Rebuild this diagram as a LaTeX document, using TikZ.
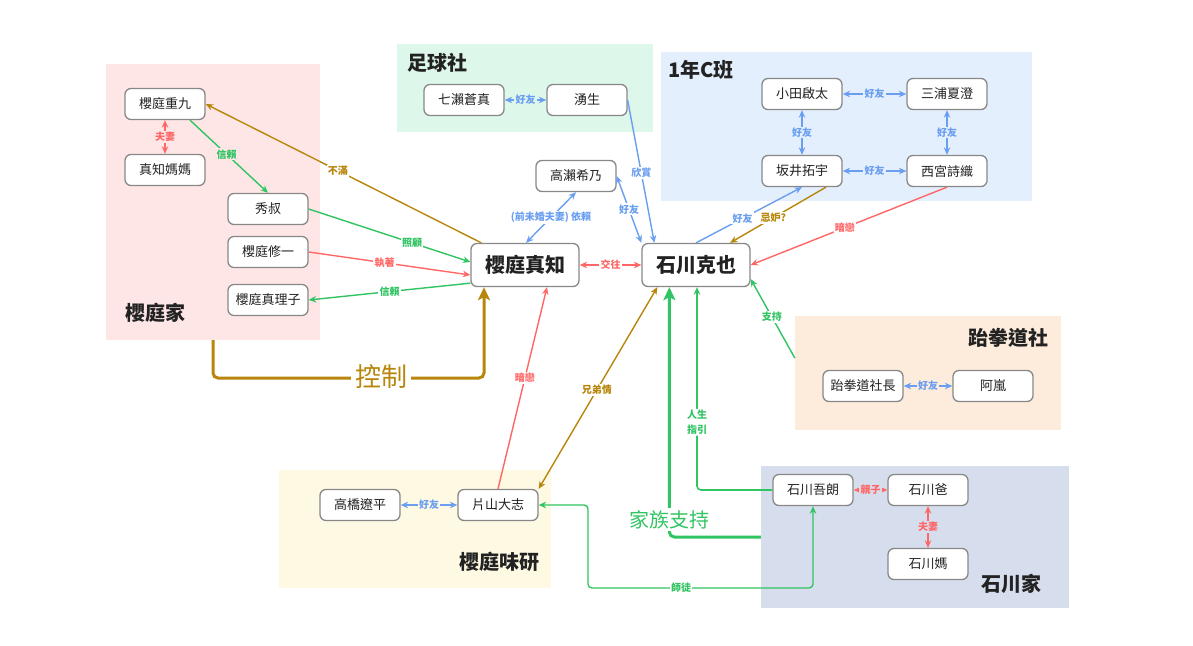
\documentclass[tikz,border=0pt]{standalone}
\usepackage{fontspec}
\setmainfont{Noto Sans CJK TC}
\usetikzlibrary{arrows.meta,calc}
\definecolor{cRed}{HTML}{FF6666}
\definecolor{cGreen}{HTML}{30C462}
\definecolor{cBlue}{HTML}{6A9EF0}
\definecolor{cBrown}{HTML}{B8860B}
\definecolor{cBorder}{HTML}{888888}
\definecolor{bgPink}{HTML}{FFE6E6}
\definecolor{bgGreen}{HTML}{DDF7EA}
\definecolor{bgBlue}{HTML}{E4EFFE}
\definecolor{bgPeach}{HTML}{FDEBDC}
\definecolor{bgYellow}{HTML}{FEF9E3}
\definecolor{bgGray}{HTML}{D6DDEC}
\definecolor{txt}{HTML}{222222}
\begin{document}
\begin{tikzpicture}[x=1pt,y=-1pt,
  person/.style={draw=cBorder, line width=1.3pt, fill=white, rounded corners=6pt,
    minimum width=80pt, minimum height=31pt, inner sep=0pt, text=txt,
    font=\fontsize{13}{15}\selectfont},
  mainp/.style={person, minimum width=108pt, minimum height=43pt,
    font=\fontsize{20}{23}\selectfont\bfseries},
  grp/.style={draw=none, inner sep=0pt},
  grplabel/.style={font=\fontsize{20}{23}\selectfont\bfseries, text=txt, inner sep=0pt},
  rel/.style={line width=1.4pt, -{Stealth[length=7.5pt,width=6.5pt]}},
  bi/.style={line width=1.4pt, {Stealth[length=7.5pt,width=6.5pt]}-{Stealth[length=7.5pt,width=6.5pt]}},
  lab/.style={font=\fontsize{10}{12}\selectfont\bfseries, inner sep=1.2pt, fill=white},
  thick arrow/.style={line width=3pt, rounded corners=5pt, -{Stealth[length=13pt,width=12pt,inset=3pt]}}
]
\useasboundingbox (0,0) rectangle (1193,645);
\fill[white] (0,0) rectangle (1193,645);

% groups
\node[grp, fill=bgPink, minimum width=214pt, minimum height=276pt] (gS) at (213,202) {};
\node[grp, fill=bgGreen, minimum width=256pt, minimum height=88pt] (gF) at (525,88) {};
\node[grp, fill=bgBlue, minimum width=371pt, minimum height=149pt] (gC) at (846.5,126.5) {};
\node[grp, fill=bgPeach, minimum width=266pt, minimum height=114pt] (gT) at (928,373) {};
\node[grp, fill=bgYellow, minimum width=272pt, minimum height=118pt] (gM) at (415,529) {};
\node[grp, fill=bgGray, minimum width=308pt, minimum height=142pt] (gI) at (915,537) {};

\node[grplabel] (lS) at (155,313) {櫻庭家};
\node[grplabel] (lF) at (437,63) {足球社};
\node[grplabel] (lC) at (701,70) {1年C班};
\node[grplabel] (lT) at (1008,338) {跆拳道社};
\node[grplabel] (lM) at (499,562) {櫻庭味研};
\node[grplabel] (lI) at (1011,584) {石川家};

% persons
\node[person] (jq) at (165,104) {櫻庭重九};
\node[person] (mm) at (165,170) {真知媽媽};
\node[person] (xs) at (268,209) {秀叔};
\node[person] (xy) at (268,252) {櫻庭修一};
\node[person] (mlz) at (268,300) {櫻庭真理子};
\node[person] (qs) at (464,100) {七瀨蒼真};
\node[person] (ys) at (587,100) {湧生};
\node[person] (od) at (802,94) {小田啟太};
\node[person] (mu) at (947,94) {三浦夏澄};
\node[person] (sk) at (802,171) {坂井拓宇};
\node[person] (nm) at (947,171) {西宮詩織};
\node[person] (tk) at (576,176) {高瀨希乃};
\node[mainp] (zz) at (525,265) {櫻庭真知};
\node[mainp] (ky) at (696,265) {石川克也};
\node[person] (tb) at (863,386) {跆拳道社長};
\node[person] (ar) at (993,386) {阿嵐};
\node[person] (tr) at (360,505) {高橋遼平};
\node[person] (kt) at (498,505) {片山大志};
\node[person] (gr) at (813,490) {石川吾朗};
\node[person] (pa) at (928,490) {石川爸};
\node[person] (ma) at (928,564) {石川媽};

% Sakuraba family
\draw[bi, cRed] (jq.south) -- node[lab, fill=bgPink]{夫妻} (mm.north);
\draw[rel, cGreen] ($(jq.south)+(25,0)$) -- node[lab, fill=bgPink, pos=0.47]{信賴} (xs.north);
\draw[rel, cBrown] ($(zz.north west)+(11,0)$) -- node[lab, pos=0.52]{不滿} (jq.east);
\draw[rel, cGreen] (xs.east) -- node[lab, pos=0.64]{照顧} ($(zz.west)+(0,-3)$);
\draw[rel, cRed] (xy.east) -- node[lab, pos=0.47]{執著} ($(zz.west)+(0,10)$);
\draw[rel, cGreen] ($(zz.south west)+(0,-4)$) -- node[lab, pos=0.5]{信賴} (mlz.east);
\coordinate (cB) at (484,378);
\draw[thick arrow, cBrown] (gS.south) |- (cB) -- ($(zz.south)+(-41,0)$);
\node[font=\fontsize{26}{30}\selectfont, text=cBrown, fill=white, inner sep=4pt] (lctrl) at (381,377) {控制};

% football club
\draw[bi, cBlue] (qs.east) -- node[lab, fill=bgGreen]{好友} (ys.west);
\draw[rel, cBlue] (ys.east) -- node[lab, pos=0.51]{欣賞} ($(ky.north west)+(13,0)$);

% center
\draw[bi, cBlue] (tk.east) -- node[lab, pos=0.5]{好友} (ky.north west);
\draw[bi, cBlue] (tk.south) -- node[lab, pos=0.5]{(前未婚夫妻) 依賴} ($(zz.north)+(1,0)$);
\draw[bi, cRed] (zz.east) -- node[lab]{交往} (ky.west);

% class C
\draw[bi, cBlue] (od.east) -- node[lab, fill=bgBlue]{好友} (mu.west);
\draw[bi, cBlue] (od.south) -- node[lab, fill=bgBlue]{好友} (sk.north);
\draw[bi, cBlue] (sk.east) -- node[lab, fill=bgBlue]{好友} (nm.west);
\draw[bi, cBlue] (mu.south) -- node[lab, fill=bgBlue]{好友} (nm.north);
\draw[rel, cBlue] (ky.north) -- node[lab, pos=0.44]{好友} (sk.south);
\draw[rel, cBrown] ($(sk.south)+(24,0)$) -- node[lab, pos=0.55]{忌妒?} ($(ky.north)+(34,0)$);
\draw[rel, cRed] (nm.south) -- node[lab, pos=0.52]{暗戀} (ky.east);

% taekwondo
\draw[rel, cGreen] ($(gT.west)+(0,-15)$) -- node[lab, pos=0.52]{支持} ($(ky.east)+(0,14)$);
\draw[bi, cBlue] (tb.east) -- node[lab, fill=bgPeach]{好友} (ar.west);

% cooking club
\draw[bi, cBlue] (tr.east) -- node[lab, fill=bgYellow]{好友} (kt.west);
\draw[rel, cRed] (kt.north) -- node[lab, pos=0.55]{暗戀} ($(zz.south)+(22,0)$);
\draw[bi, cBrown] (kt.north east) -- node[lab, pos=0.49]{兄弟情} ($(ky.south west)+(16,0)$);

% Ishikawa family
\draw[thick arrow, cGreen] (gI.west) -| node[pos=0.535, font=\fontsize{20}{23}\selectfont, fill=white, inner sep=2pt]{家族支持} ($(ky.south west)+(28,0)$);
\draw[rel, cGreen, line width=1.6pt, rounded corners=4pt] (gr.west) -| node[lab, pos=0.667, align=center, font=\fontsize{10}{15}\selectfont\bfseries]{人生\\指引} ($(ky.south)+(1,0)$);
\draw[bi, cRed] (gr.east) -- node[lab, fill=bgGray]{親子} (pa.west);
\draw[bi, cRed] (pa.south) -- node[lab, fill=bgGray]{夫妻} (ma.north);
\coordinate (st1) at (588,588);
\draw[bi, cGreen, rounded corners=4pt] (kt.east) -| (st1) -| (gr.south);
\node[lab, text=cGreen] (lst) at (681,588) {師徒};
\end{tikzpicture}
\end{document}
